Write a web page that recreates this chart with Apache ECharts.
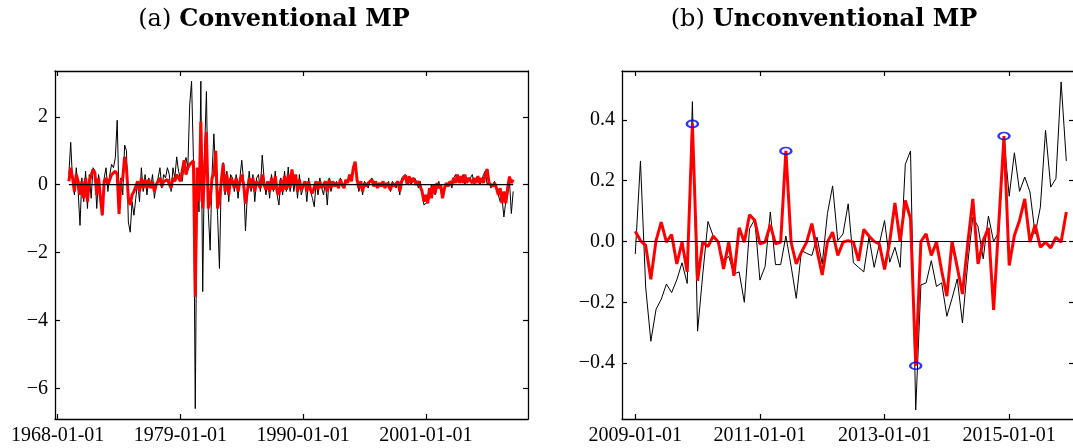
<!DOCTYPE html>
<html>
<head>
<meta charset="utf-8">
<script src="https://cdn.jsdelivr.net/npm/echarts@6/dist/echarts.min.js"></script>
<style>
  html, body { margin: 0; padding: 0; background: #fff; }
  #chart { width: 1073px; height: 448px; }
</style>
</head>
<body>
<div id="chart"></div>
<script>
// (a) conventional MP: bimonthly readings, Jan 1969 .. Nov 2008 (one row per year)
const convStart = 1969;
const convActual = [
  0.3, 1.25, 0.1, -0.3, 0.5, -0.2,
  -1.2, 0.2, -0.5, 0.4, -0.7, 0.3,
  -0.4, 0.5, 0.4, -0.7, 0.3, -0.3,
  -0.9, 0.2, 0.5, -0.2, 0.3, 0.6,
  0.5, 0.8, 1.9, -0.4, 0.2, -0.3,
  1.17, 1.0, -1.1, -1.4, -0.5, -0.9,
  -0.4, 0.1, -0.5, 0.5, -0.2, 0.3,
  -0.3, 0.2, -0.1, 0.3, -0.4, 0.0,
  0.2, 0.5, -0.1, 0.3, 0.2, 0.5,
  0.3, -0.2, 0.5, 0.2, 0.82, 0.4,
  0.2, 0.1, 0.6, 0.8, 0.5, 2.35,
  3.05, 0.8, -6.6, 0.5, -0.8, 3.05,
  -3.15, 1.0, 2.75, -0.8, -1.93, 0.3,
  1.5, 0.3, -0.9, -2.47, 0.2, 0.65,
  -0.3, 0.4, -0.5, 0.3, 0.2, -0.2,
  0.3, -0.4, 0.2, 0.72, 0.1, -1.36,
  -0.3, 0.4, -0.2, 0.3, -0.5, 0.2,
  0.3, -0.2, 0.87, 0.2, -0.3, 0.1,
  -0.4, 0.3, -0.2, 0.4, -0.3, -0.6,
  0.2, -0.3, 0.4, -0.2, 0.52, -0.2,
  0.3, -0.2, 0.2, -0.4, 0.3, -0.3,
  -0.3, 0.1, -0.5, 0.2, -0.2, -0.4,
  -0.65, 0.1, -0.3, 0.2, -0.1, -0.3,
  0.1, -0.6, 0.2, -0.2, 0.1, 0.0,
  0.1, -0.1, 0.2, 0.0, -0.1, 0.1,
  0.1, 0.2, 0.3, 0.4, 0.5, 0.2,
  -0.2, 0.1, -0.3, 0.1, 0.0, -0.1,
  0.1, 0.2, 0.0, 0.1, -0.1, 0.0,
  0.0, 0.1, -0.1, 0.0, 0.1, -0.2,
  0.1, 0.0, -0.1, 0.1, -0.3, 0.2,
  0.2, 0.3, 0.1, 0.25, 0.0, 0.1,
  0.2, 0.1, -0.1, 0.1, -0.2, -0.6,
  -0.6, -0.5, -0.4, 0.0, -0.2, -0.3,
  -0.1, 0.1, -0.2, -0.35, -0.2, 0.0,
  0.0, 0.1, -0.1, 0.2, 0.3, 0.1,
  0.2, 0.1, 0.3, 0.0, 0.2, 0.1,
  0.2, 0.3, 0.0, 0.1, 0.2, 0.0,
  0.1, 0.3, 0.4, 0.0, 0.1, -0.1,
  0.0, 0.1, -0.1, -0.3, -0.5, -0.4,
  -0.95, -0.5, -0.3, 0.1, -0.85, -0.2
];
const convFitted = [
  0.1, 0.5, 0.2, -0.2, 0.3, 0.1,
  -0.3, 0.1, -0.4, 0.2, -0.5, 0.1,
  0.1, 0.45, 0.35, -0.3, 0.2, -0.4,
  -0.9, 0.1, 0.2, 0.0, 0.15, 0.3,
  0.3, 0.4, 0.3, -0.86, 0.1, 0.2,
  0.82, 0.5, -0.4, -0.6, -0.3, -0.2,
  -0.2, 0.1, -0.2, 0.2, -0.1, 0.15,
  -0.1, 0.15, -0.1, 0.1, -0.2, 0.0,
  0.1, 0.2, -0.05, 0.1, 0.1, 0.15,
  0.1, -0.1, 0.2, 0.1, 0.3, 0.2,
  0.1, 0.05, 0.72, 0.3, 0.5, 0.6,
  0.6, 0.7, -3.3, 0.5, -0.5, 1.86,
  -0.7, 0.4, 1.55, -0.7, -0.5, 0.2,
  0.3, 1.0, -0.7, -0.4, 0.1, 0.62,
  -0.2, 0.3, -0.3, 0.2, 0.1, -0.1,
  0.2, -0.2, 0.1, 0.3, 0.0, -0.56,
  -0.2, 0.2, -0.1, 0.2, -0.2, 0.1,
  0.1, -0.1, 0.3, 0.0, -0.15, 0.1,
  -0.2, 0.2, -0.15, 0.25, -0.2, -0.3,
  0.15, -0.2, 0.25, -0.15, 0.3, -0.1,
  0.45, 0.0, 0.3, -0.2, 0.15, -0.15,
  -0.1, 0.1, -0.2, 0.1, -0.15, -0.25,
  -0.2, 0.1, -0.15, 0.1, -0.1, -0.15,
  0.1, -0.2, 0.15, -0.1, 0.1, -0.05,
  0.05, -0.1, 0.15, 0.0, -0.1, 0.15,
  0.05, 0.3, 0.1, 0.5, 0.68, 0.15,
  -0.1, 0.1, -0.2, 0.05, -0.05, 0.05,
  0.0, 0.15, -0.05, 0.1, -0.1, 0.05,
  -0.05, 0.1, -0.1, 0.05, 0.1, -0.15,
  0.05, -0.05, 0.0, 0.1, -0.2, 0.1,
  0.05, 0.28, 0.0, 0.25, 0.05, 0.2,
  0.15, 0.0, 0.1, -0.05, -0.2, -0.5,
  -0.3, -0.55, -0.1, -0.4, 0.0, -0.25,
  0.05, -0.1, 0.0, -0.4, -0.1, 0.05,
  -0.05, 0.1, 0.0, 0.2, 0.05, 0.3,
  0.05, 0.25, 0.05, 0.3, 0.05, 0.2,
  0.25, 0.05, 0.2, 0.05, 0.25, 0.05,
  0.2, 0.05, 0.3, 0.46, 0.05, 0.1,
  -0.05, 0.05, -0.1, -0.3, -0.1, -0.55,
  -0.2, -0.55, -0.1, 0.24, 0.05, 0.15
];

// (b) unconventional MP: monthly, Jan 2009 .. Dec 2015 (one row per year)
const uncStart = 2009;
const uncActual = [
  -0.041, 0.265, -0.15, -0.328, -0.223, -0.19, -0.14, -0.168, -0.126, -0.07, -0.138, 0.46,
  -0.295, -0.107, 0.066, 0.018, -0.008, -0.063, -0.049, -0.107, -0.10, -0.20, 0.042, 0.073,
  -0.127, -0.082, 0.097, -0.076, -0.076, 0.018, -0.08, -0.187, -0.03, -0.039, -0.046, 0.014,
  -0.074, 0.092, 0.183, 0.003, 0.025, 0.124, -0.07, -0.085, -0.10, 0.014, -0.085, -0.008,
  0.069, -0.068, -0.019, -0.085, 0.254, 0.298, -0.554, -0.143, -0.136, -0.063, -0.148, -0.136,
  -0.246, -0.187, -0.123, -0.268, -0.076, 0.08, 0.049, -0.057, 0.084, 0.0, 0.031, 0.338,
  0.149, 0.292, 0.165, 0.212, 0.163, 0.025, 0.113, 0.366, 0.179, 0.207, 0.525, 0.265
];
const uncFitted = [
  0.034, 0.003, -0.013, -0.124, 0.003, 0.064, -0.002, 0.023, -0.074, -0.002, -0.10, 0.387,
  -0.129, -0.002, -0.017, 0.018, -0.002, -0.09, -0.002, -0.113, 0.045, -0.002, 0.088, 0.07,
  -0.008, -0.002, 0.055, -0.008, -0.002, 0.298, -0.002, -0.074, -0.035, -0.002, 0.059, -0.03,
  -0.11, -0.002, 0.031, -0.046, -0.002, 0.003, -0.002, -0.063, 0.04, 0.018, 0.0, -0.008,
  -0.092, 0.0, 0.127, 0.0, 0.135, 0.075, -0.409, 0.0, 0.025, -0.046, -0.002, -0.096,
  -0.18, 0.0, -0.085, -0.173, -0.01, 0.14, -0.074, 0.003, 0.045, -0.225, 0.06, 0.347,
  -0.079, 0.02, 0.07, 0.14, -0.002, 0.055, -0.019, -0.002, -0.021, 0.014, -0.002, 0.097
];
const uncCircled = [11, 29, 54, 71]; // months marked with blue rings

const convTicksX = [1968, 1979, 1990, 2001];
const convTicksY = [2, 0, -2, -4, -6];
const uncTicksX = [2009, 2011, 2013, 2015];
const uncTicksY = [0.4, 0.2, 0, -0.2, -0.4];

const FONT = "Liberation Serif";
const minus = s => s.replace("-", "\u2212");

const convPts = (arr) => arr.map((v, i) => [convStart + i / 6, v]);
const uncPts = (arr) => arr.map((v, i) => [uncStart + i / 12, v]);

function axis(gridIndex, position, min, max, ticks, fmt, showLabel) {
  return {
    type: "value", gridIndex, position, min, max,
    splitLine: { show: false },
    axisLine: { show: true, onZero: false, lineStyle: { color: "#000", width: 1.3 } },
    axisTick: { show: true, inside: true, length: 5, customValues: ticks,
      lineStyle: { color: "#000", width: 1.2 } },
    axisLabel: { show: showLabel, customValues: ticks, formatter: fmt,
      fontFamily: FONT, fontSize: 20, color: "#000", margin: 7 }
  };
}

const yearFmt = v => Math.round(v) + "-01-01";
const convYFmt = v => minus(String(Math.round(v)));
const uncYFmt = v => minus(v.toFixed(1));

const convMin = 1967.758, convMax = 2010.16;
const uncMin = 2008.787, uncMax = 2016.04;

const titleRich = {
  n: { fontFamily: "DejaVu Serif", fontSize: 24, fontWeight: "normal", color: "#000", padding: [0, 3, 0, 0] },
  b: { fontFamily: "DejaVu Serif", fontSize: 24, fontWeight: "bold", color: "#000" }
};

const chart = echarts.init(document.getElementById("chart"));
chart.setOption({
  animation: false,
  backgroundColor: "#fff",
  title: [
    { text: "{n|(a)} {b|Conventional MP}", left: 274, top: 8, textAlign: "center", padding: 0,
      textStyle: { fontWeight: "normal", rich: titleRich } },
    { text: "{n|(b)} {b|Unconventional MP}", left: 824, top: 8, textAlign: "center", padding: 0,
      textStyle: { fontWeight: "normal", rich: titleRich } }
  ],
  grid: [
    { left: 55, top: 71, width: 473, height: 348, outerBoundsMode: "none" },
    { left: 622, top: 71, width: 452, height: 348, outerBoundsMode: "none" }
  ],
  xAxis: [
    axis(0, "bottom", convMin, convMax, convTicksX, yearFmt, true),
    axis(0, "top", convMin, convMax, convTicksX, yearFmt, false),
    axis(1, "bottom", uncMin, uncMax, uncTicksX, yearFmt, true),
    axis(1, "top", uncMin, uncMax, uncTicksX, yearFmt, false)
  ],
  yAxis: [
    axis(0, "left", -6.905, 3.351, convTicksY, convYFmt, true),
    axis(0, "right", -6.905, 3.351, convTicksY, convYFmt, false),
    axis(1, "left", -0.584, 0.561, uncTicksY, uncYFmt, true),
    axis(1, "right", -0.584, 0.561, uncTicksY, uncYFmt, false)
  ],
  series: [
    { type: "line", xAxisIndex: 0, yAxisIndex: 0, data: convPts(convActual), symbol: "none",
      lineStyle: { color: "#000", width: 1 }, z: 2 },
    { type: "line", xAxisIndex: 0, yAxisIndex: 0, data: convPts(convFitted), symbol: "none",
      lineStyle: { color: "#ff0000", width: 3 }, z: 3 },
    { type: "line", xAxisIndex: 0, yAxisIndex: 0, symbol: "none",
      data: [[convStart, 0], [convStart + (convActual.length - 1) / 6, 0]],
      lineStyle: { color: "#000", width: 1.2 }, z: 4 },
    { type: "line", xAxisIndex: 2, yAxisIndex: 2, data: uncPts(uncActual), symbol: "none",
      lineStyle: { color: "#000", width: 1 }, z: 2 },
    { type: "line", xAxisIndex: 2, yAxisIndex: 2, data: uncPts(uncFitted), symbol: "none",
      lineStyle: { color: "#ff0000", width: 3 }, z: 3 },
    { type: "line", xAxisIndex: 2, yAxisIndex: 2, symbol: "none",
      data: [[uncStart, 0], [uncStart + (uncActual.length - 1) / 12, 0]],
      lineStyle: { color: "#000", width: 1.2 }, z: 4 },
    { type: "scatter", xAxisIndex: 2, yAxisIndex: 2, symbol: "circle", symbolSize: [11, 7],
      data: uncCircled.map(i => [uncStart + i / 12, uncFitted[i]]),
      itemStyle: { color: "rgba(0,0,0,0)", borderColor: "#0000ff", borderWidth: 2 }, z: 5 }
  ]
});
</script>
</body>
</html>
